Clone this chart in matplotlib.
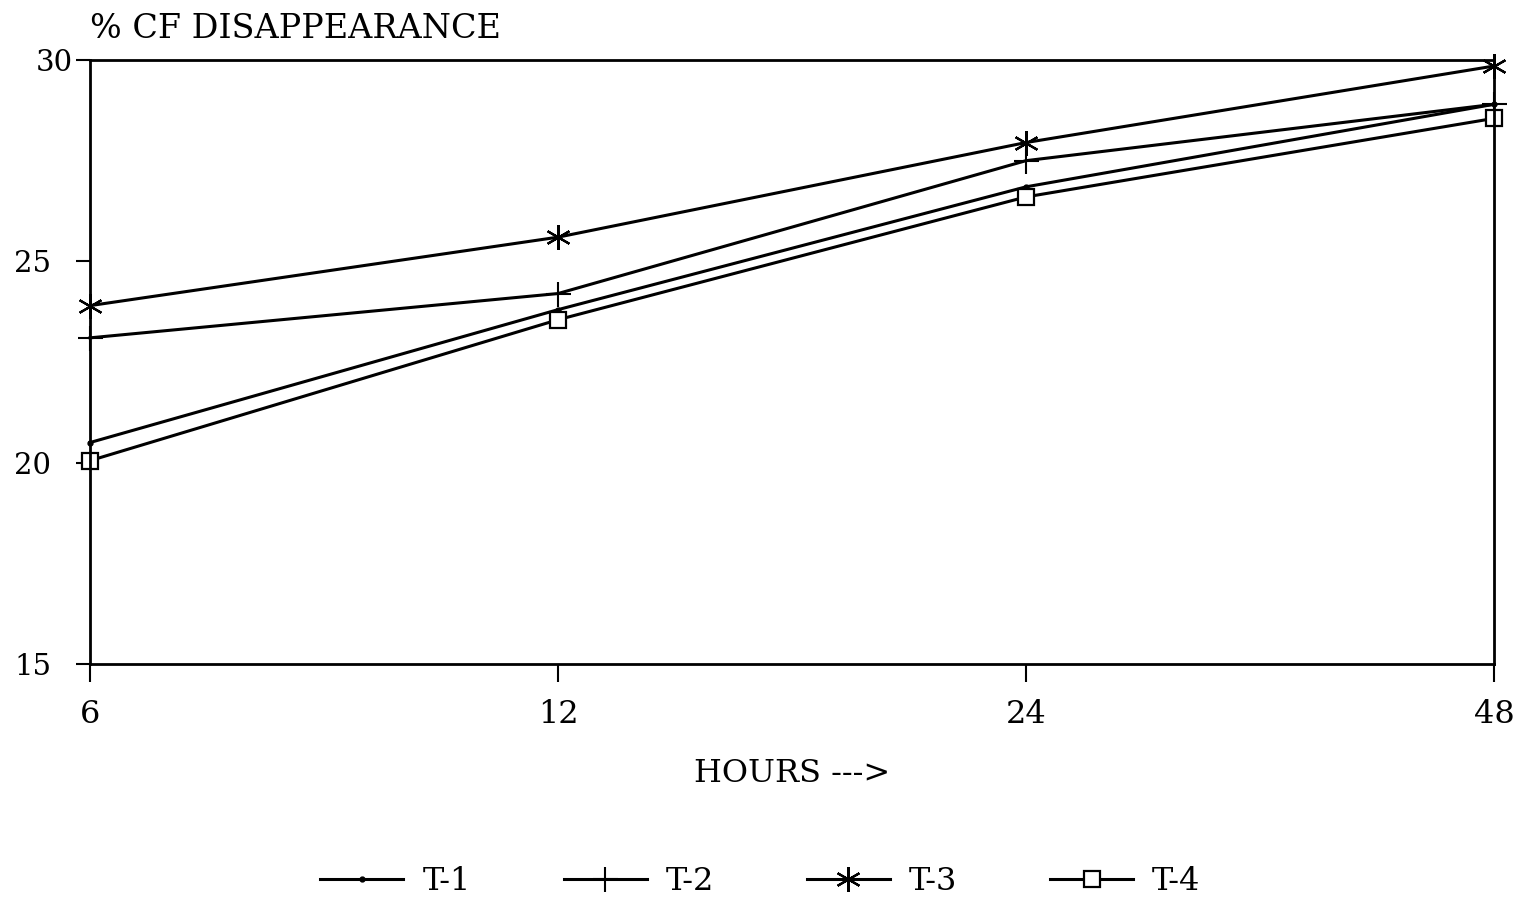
import numpy as np
import matplotlib.pyplot as plt
import matplotlib.transforms as mtransforms

# data
hours = ['6', '12', '24', '48']
t1 = [20.5, 23.8, 26.85, 28.9]
t2 = [23.1, 24.2, 27.5, 28.9]
t3 = [23.9, 25.6, 27.95, 29.85]
t4 = [20.05, 23.55, 26.6, 28.55]

plt.rcParams['font.family'] = ['DejaVu Serif']
fig = plt.figure(figsize=(15.21, 8.99), dpi=100)
ax = fig.add_axes([90/1521, 1-664/899, (1494-90)/1521, (664-60)/899])

x = np.arange(len(hours))
lw = 2.2
ax.plot(x, t1, color='black', lw=lw, marker='o', ms=3.5, label='T-1', clip_on=False)
ax.plot(x, t2, color='black', lw=lw, marker='+', ms=18, mew=1.5, label='T-2', clip_on=False)
ax.plot(x, t3, color='black', lw=lw, marker=(6, 2, 0), ms=18, mew=1.6, label='T-3', clip_on=False)
ax.plot(x, t4, color='black', lw=lw, marker='s', ms=11, mfc='white', mew=1.6, label='T-4', clip_on=False)

ax.set_xlim(0, 3)
ax.set_ylim(15, 30)
ax.set_xticks(x)
ax.set_xticklabels(hours)
ax.set_yticks([15, 20, 25, 30])
for s in ax.spines.values():
    s.set_linewidth(2.0)
ax.tick_params(axis='both', width=1.5, direction='out')
ax.tick_params(axis='x', labelsize=23, length=13, pad=12)
ax.tick_params(axis='y', labelsize=21, length=10, pad=18)
# the 30 label sits further right in the original
lab30 = ax.get_yticklabels()[-1]
lab30.set_transform(lab30.get_transform() + mtransforms.ScaledTranslation(0.22, 0, fig.dpi_scale_trans))

ax.set_xlabel('HOURS --->', fontsize=23, labelpad=20)
ax.text(0, 1.025, '% CF DISAPPEARANCE', transform=ax.transAxes, fontsize=24,
        ha='left', va='bottom')

fig.legend(loc='lower center', bbox_to_anchor=(0.5, -0.03), ncol=4, frameon=False,
           fontsize=23, handlelength=2.6, handletextpad=0.6, columnspacing=2.9)

fig.savefig('out.png', dpi=100)
